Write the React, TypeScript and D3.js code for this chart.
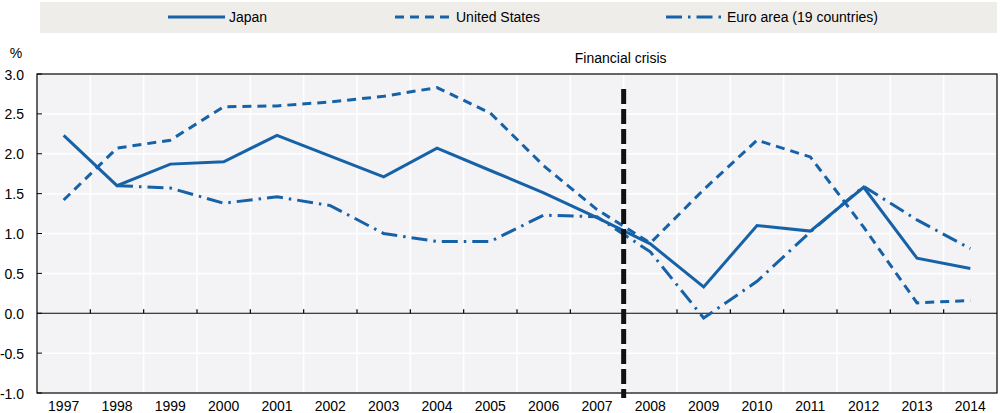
import React from "react";
import * as d3 from "d3";

const years = ["1997","1998","1999","2000","2001","2002","2003","2004","2005","2006","2007","2008","2009","2010","2011","2012","2013","2014"];
const japan: (number | null)[] = [2.23,1.6,1.87,1.9,2.23,1.97,1.71,2.07,1.79,1.51,1.2,0.87,0.33,1.1,1.03,1.58,0.69,0.56];
const unitedStates: (number | null)[] = [1.42,2.07,2.17,2.59,2.6,2.65,2.72,2.83,2.51,1.85,1.3,0.88,1.55,2.17,1.96,1.08,0.13,0.16];
const euroArea: (number | null)[] = [null,1.6,1.57,1.38,1.46,1.35,1.0,0.9,0.9,1.23,1.21,0.77,-0.06,0.4,1.02,1.59,1.17,0.81];
const yTicks = [-1.0,-0.5,0.0,0.5,1.0,1.5,2.0,2.5,3.0];
const seriesNames = ["Japan","United States","Euro area (19 countries)"];
const crisisAfter = "2007";
const crisisLabel = "Financial  crisis";

const W = 1000, H = 413;
const M = { left: 37, right: 997, top: 74, bottom: 393 };
const BLUE = "#1762a7";
const FONT = "'Liberation Sans', Arial, sans-serif";
const FS = 14;
const dashes = ["", "9,6", "16,6,2.5,6"];

export default function App() {
  const x = d3.scaleBand<string>().domain(years).range([M.left, M.right]).paddingInner(0).paddingOuter(0);
  const y = d3.scaleLinear().domain([-1, 3]).range([M.bottom, M.top]);
  const cx = (yr: string) => (x(yr) as number) + x.bandwidth() / 2;
  const line = d3.line<number | null>()
    .defined((d) => d !== null)
    .x((_, i) => cx(years[i]))
    .y((d) => y(d as number));
  const all = [japan, unitedStates, euroArea];
  const boundaries = years.slice(1).map((yr) => x(yr) as number);
  const crisisX = (x(crisisAfter) as number) + x.bandwidth();

  const legendX = [168, 395, 666];

  return (
    <svg width={W} height={H} style={{ position: "absolute", left: 0, top: 0, fontFamily: FONT }}>
      <rect x={0} y={0} width={W} height={H} fill="#fff" />
      {/* legend */}
      <rect x={40} y={2} width={957} height={31} fill="#efedea" />
      {seriesNames.map((n, i) => (
        <g key={n}>
          <line x1={legendX[i]} x2={legendX[i] + 57} y1={17} y2={17} stroke={BLUE} strokeWidth={3} strokeDasharray={dashes[i] || undefined} />
          <text x={legendX[i] + 61} y={22} fontSize={FS} fill="#000">{n}</text>
        </g>
      ))}
      {/* plot background */}
      <rect x={M.left} y={M.top} width={M.right - M.left} height={M.bottom - M.top} fill="#f3f3f6" />
      {yTicks.map((t) => (
        <line key={"h" + t} x1={M.left} x2={M.right} y1={y(t)} y2={y(t)} stroke="#fff" strokeWidth={1.5} />
      ))}
      {boundaries.map((b, i) => (
        <line key={"v" + i} x1={b} x2={b} y1={M.top} y2={M.bottom} stroke="#fff" strokeWidth={1.5} />
      ))}
      {/* zero line with ticks */}
      <line x1={M.left} x2={M.right} y1={y(0)} y2={y(0)} stroke="#000" strokeWidth={1.2} />
      {boundaries.map((b, i) => (
        <line key={"t" + i} x1={b} x2={b} y1={y(0)} y2={y(0) - 4} stroke="#000" strokeWidth={1.2} />
      ))}
      {/* frame */}
      <rect x={M.left} y={M.top} width={M.right - M.left} height={M.bottom - M.top} fill="none" stroke="#000" strokeWidth={1.2} />
      {/* y ticks */}
      {yTicks.map((t) => (
        <g key={"yl" + t}>
          <line x1={M.left} x2={M.left + 5} y1={y(t)} y2={y(t)} stroke="#000" strokeWidth={1} />
          <text x={24} y={y(t) + 5.5} textAnchor="end" fontSize={FS} fill="#000">{t.toFixed(1)}</text>
        </g>
      ))}
      <text x={16} y={58} textAnchor="middle" fontSize={FS} fill="#000">%</text>
      {/* x labels */}
      {years.map((yr) => (
        <text key={yr} x={cx(yr)} y={411} textAnchor="middle" fontSize={FS} fill="#000">{yr}</text>
      ))}
      {/* series */}
      {all.map((s, i) => (
        <path key={"s" + i} d={line(s) || ""} fill="none" stroke={BLUE} strokeWidth={3} strokeDasharray={dashes[i] || undefined} strokeLinejoin="miter" />
      ))}
      {/* crisis line */}
      <line x1={crisisX} x2={crisisX} y1={89} y2={398} stroke="#111" strokeWidth={5} strokeDasharray="15,5" />
      <text x={crisisX - 3} y={63} textAnchor="middle" fontSize={FS} fill="#000">{crisisLabel}</text>
    </svg>
  );
}
